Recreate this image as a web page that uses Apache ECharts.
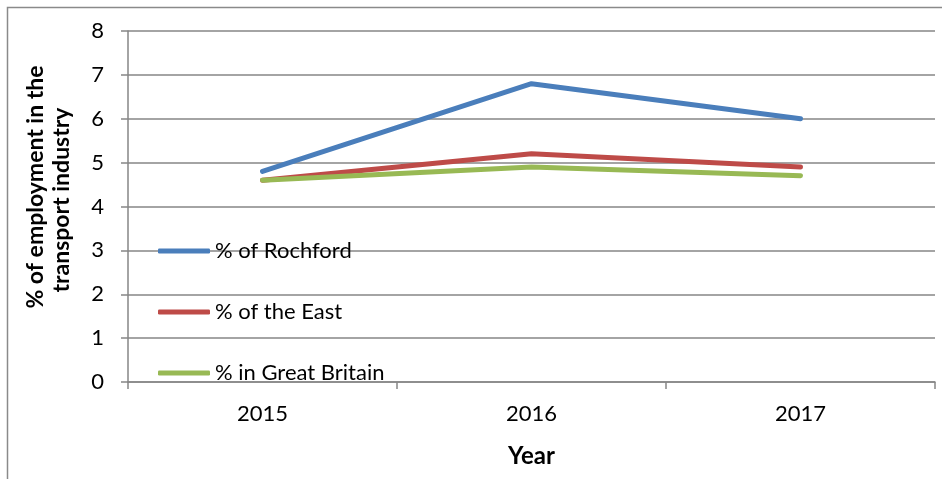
<!DOCTYPE html>
<html><head><meta charset="utf-8">
<script src="https://cdn.jsdelivr.net/npm/echarts@6/dist/echarts.min.js"></script>
<style>html,body{margin:0;padding:0;background:#fff}#c{width:942px;height:479px}</style>
</head><body><div id="c"></div>
<script>
const years = ['2015', '2016', '2017'];
const rochford = [4.8, 6.8, 6.0];
const east = [4.6, 5.2, 4.9];
const greatBritain = [4.6, 4.9, 4.7];
const seriesNames = ['% of Rochford', '% of the East', '% in Great Britain'];
const yTitleLines = ['% of employment in the', 'transport industry'];
const colors = ['#4a7ebb', '#be4b48', '#98b954'];

const font = 'Lato, "Open Sans", sans-serif';
const chart = echarts.init(document.getElementById('c'));
const mk = (name, data, color) => ({
  name, type: 'line', data, symbol: 'none', smooth: false,
  lineStyle: { color, width: 5, cap: 'round', join: 'round' },
  itemStyle: { color }
});
const titleStyle = (text) => ({ text, fill: '#000', font: 'bold 23px ' + font, textAlign: 'center', textVerticalAlign: 'middle' });
chart.setOption({
  animation: false,
  textStyle: { fontFamily: font },
  graphic: [{
    type: 'polyline', shape: { points: [[7.5, 479], [7.5, 7.5], [942, 7.5]] },
    style: { stroke: '#8a8a8a', lineWidth: 1.5, fill: null }, silent: true
  }, {
    type: 'text', x: 36, y: 187, rotation: Math.PI / 2, style: titleStyle(yTitleLines[0]), silent: true
  }, {
    type: 'text', x: 62, y: 200, rotation: Math.PI / 2, style: titleStyle(yTitleLines[1]), silent: true
  }],
  grid: { left: 128, right: 7, top: 31, bottom: 97 },
  legend: {
    orient: 'vertical', left: 153, top: 235, itemGap: 39,
    itemWidth: 52, itemHeight: 5, icon: 'roundRect',
    textStyle: { fontSize: 22, color: '#000', fontFamily: font },
    data: seriesNames
  },
  xAxis: {
    type: 'category', data: years, boundaryGap: true,
    name: 'Year', nameLocation: 'middle', nameGap: 62,
    nameTextStyle: { fontSize: 24, fontWeight: 'bold', color: '#000', fontFamily: font },
    axisLine: { lineStyle: { color: '#868686', width: 1.5 } },
    axisTick: { show: true, length: 7, lineStyle: { color: '#868686', width: 1.5 } },
    axisLabel: { fontSize: 22, color: '#000', margin: 21, fontFamily: font }
  },
  yAxis: {
    type: 'value', min: 0, max: 8, interval: 1,
    axisLine: { show: true, lineStyle: { color: '#868686', width: 1.5 } },
    axisTick: { show: true, length: 7, lineStyle: { color: '#868686', width: 1.5 } },
    axisLabel: { fontSize: 22, color: '#000', margin: 24, fontFamily: font },
    splitLine: { lineStyle: { color: '#868686', width: 1.5 } }
  },
  series: [
    mk(seriesNames[0], rochford, colors[0]),
    mk(seriesNames[1], east, colors[1]),
    mk(seriesNames[2], greatBritain, colors[2])
  ]
});
</script></body></html>
